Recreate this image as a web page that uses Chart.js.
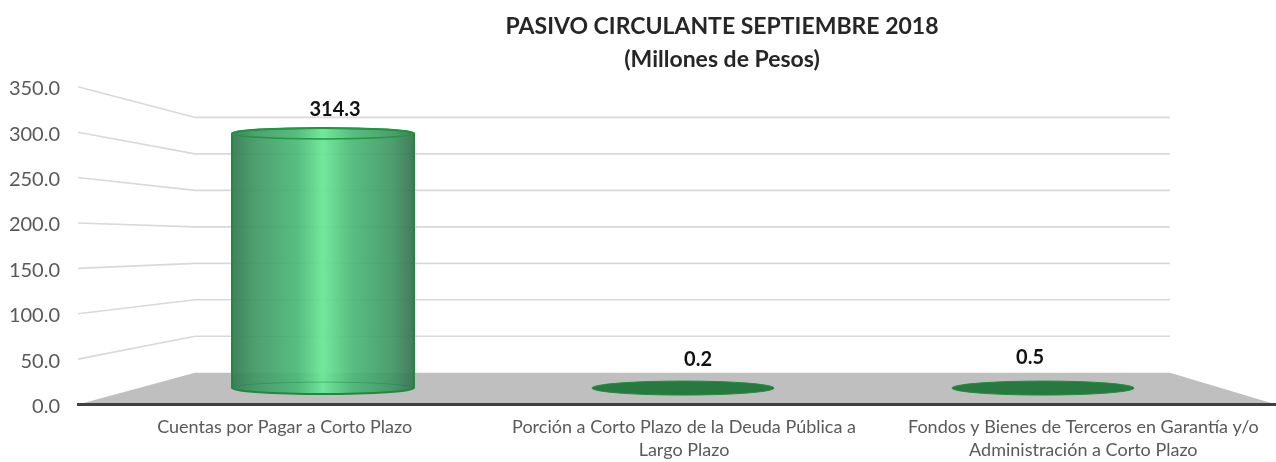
<!DOCTYPE html>
<html>
<head>
<meta charset="utf-8">
<script src="https://cdn.jsdelivr.net/npm/chart.js@4"></script>
<style>html,body{margin:0;padding:0;background:#fff}#w{width:1276px;height:462px}</style>
</head>
<body>
<div id="w"><canvas id="c"></canvas></div>
<script>
const categories = [
  "Cuentas por Pagar a Corto Plazo",
  ["Porción a Corto Plazo de la Deuda Pública a", "Largo Plazo"],
  ["Fondos y Bienes de Terceros en Garantía y/o", "Administración a Corto Plazo"]
];
const values = [314.3, 0.2, 0.5];
const titleLines = ["PASIVO CIRCULANTE SEPTIEMBRE 2018", "(Millones de Pesos)"];
const FONT = "Lato, 'Open Sans', sans-serif";

const scene = {
  id: 'scene',
  afterLayout(chart) { chart.titleBlock.left += 84; chart.titleBlock.right += 84; },
  beforeDraw(chart) {
    const {ctx, chartArea: a, scales: s} = chart;
    const bl = a.left + 117, br = a.right - 106;
    ctx.save();
    ctx.fillStyle = '#bfbfbf';
    ctx.beginPath();
    ctx.moveTo(a.left, s.y.getPixelForValue(0));
    ctx.lineTo(a.right, s.y.getPixelForValue(0));
    ctx.lineTo(br, s.yBack.getPixelForValue(0));
    ctx.lineTo(bl, s.yBack.getPixelForValue(0));
    ctx.closePath();
    ctx.fill();
    ctx.strokeStyle = '#d9d9d9';
    ctx.lineWidth = 1.6;
    s.y.ticks.forEach(t => {
      if (t.value === 0) return;
      ctx.beginPath();
      ctx.moveTo(a.left, s.y.getPixelForValue(t.value));
      ctx.lineTo(bl, s.yBack.getPixelForValue(t.value));
      ctx.lineTo(br, s.yBack.getPixelForValue(t.value));
      ctx.stroke();
    });
    ctx.restore();
  },
  afterDatasetsDraw(chart) {
    const {ctx} = chart;
    const meta = chart.getDatasetMeta(0);
    const lx = [12, 15, -13], ly = [-24, -28, -30];
    ctx.save();
    meta.data.forEach((b, i) => {
      const x0 = b.x - b.width / 2, x1 = b.x + b.width / 2, rx = b.width / 2;
      const top = b.y, base = b.base, h = base - top;
      if (h < 3) {
        ctx.beginPath();
        ctx.ellipse(b.x, base, rx, 7, 0, 0, Math.PI * 2);
        ctx.fillStyle = '#27793f';
        ctx.fill();
        ctx.strokeStyle = '#1f8f3a';
        ctx.lineWidth = 1;
        ctx.stroke();
      } else {
        const ryT = 5.5, ryB = 6;
        const g = ctx.createLinearGradient(x0, 0, x1, 0);
        g.addColorStop(0, 'rgba(56,122,84,0.95)');
        g.addColorStop(0.12, 'rgba(62,150,98,0.92)');
        g.addColorStop(0.36, 'rgba(74,184,118,0.92)');
        g.addColorStop(0.5, 'rgba(108,230,152,0.95)');
        g.addColorStop(0.66, 'rgba(74,184,118,0.92)');
        g.addColorStop(0.88, 'rgba(62,150,98,0.92)');
        g.addColorStop(1, 'rgba(58,116,84,0.95)');
        ctx.beginPath();
        ctx.moveTo(x0, top);
        ctx.lineTo(x0, base);
        ctx.ellipse(b.x, base, rx, ryB, 0, Math.PI, 0, true);
        ctx.lineTo(x1, top);
        ctx.ellipse(b.x, top, rx, ryT, 0, 0, Math.PI, true);
        ctx.closePath();
        ctx.fillStyle = g;
        ctx.fill();
        ctx.strokeStyle = '#1f8a3c';
        ctx.lineWidth = 2;
        ctx.stroke();
        ctx.beginPath();
        ctx.ellipse(b.x, base, rx, ryB, 0, Math.PI, 0);
        ctx.strokeStyle = 'rgba(30,130,70,0.45)';
        ctx.lineWidth = 1;
        ctx.stroke();
        ctx.beginPath();
        ctx.ellipse(b.x, top, rx, ryT, 0, 0, Math.PI * 2);
        ctx.strokeStyle = '#1f9a3c';
        ctx.lineWidth = 1.5;
        ctx.stroke();
      }
      ctx.fillStyle = '#111';
      ctx.font = 'bold 20px ' + FONT;
      ctx.textAlign = 'center';
      ctx.textBaseline = 'middle';
      ctx.fillText(values[i].toFixed(1), b.x + lx[i], top + ly[i]);
    });
    ctx.restore();
  }
};

new Chart(document.getElementById('c'), {
  type: 'bar',
  data: {
    labels: categories,
    datasets: [{
      data: values.map((v, i) => ({x: i, y: v})),
      xAxisID: 'x2',
      yAxisID: 'yMid',
      barThickness: 182,
      backgroundColor: 'rgba(0,0,0,0)',
      borderWidth: 0
    }]
  },
  options: {
    responsive: true,
    maintainAspectRatio: false,
    animation: false,
    layout: {padding: 0},
    plugins: {
      legend: {display: false},
      tooltip: {enabled: false},
      title: {
        display: true,
        text: titleLines,
        color: '#262626',
        font: {family: FONT, size: 23, weight: 'bold', lineHeight: 1.43},
        padding: {top: 10, bottom: 11}
      }
    },
    scales: {
      x: {
        type: 'category',
        offset: true,
        grid: {display: false, drawTicks: false},
        border: {color: '#404040', width: 3},
        ticks: {color: '#595959', font: {family: FONT, size: 18, lineHeight: 1.3}, padding: 11, labelOffset: 7, maxRotation: 0, autoSkip: false},
        afterFit(s) { s.height = 57.5; }
      },
      x2: {type: 'linear', display: false, offset: false, min: -0.6806, max: 2.6472},
      y: {
        type: 'linear',
        min: 0, max: 350,
        grid: {display: false, drawTicks: false},
        border: {display: false},
        ticks: {stepSize: 50, color: '#595959', font: {family: FONT, size: 20}, padding: 18, labelOffset: 2, callback: v => v.toFixed(1)},
        afterFit(s) { s.width = 78; }
      },
      yMid: {type: 'linear', display: false, min: -20.3, max: 371.9},
      yBack: {type: 'linear', display: false, min: -43.5, max: 392}
    }
  },
  plugins: [scene]
});
</script>
</body>
</html>
